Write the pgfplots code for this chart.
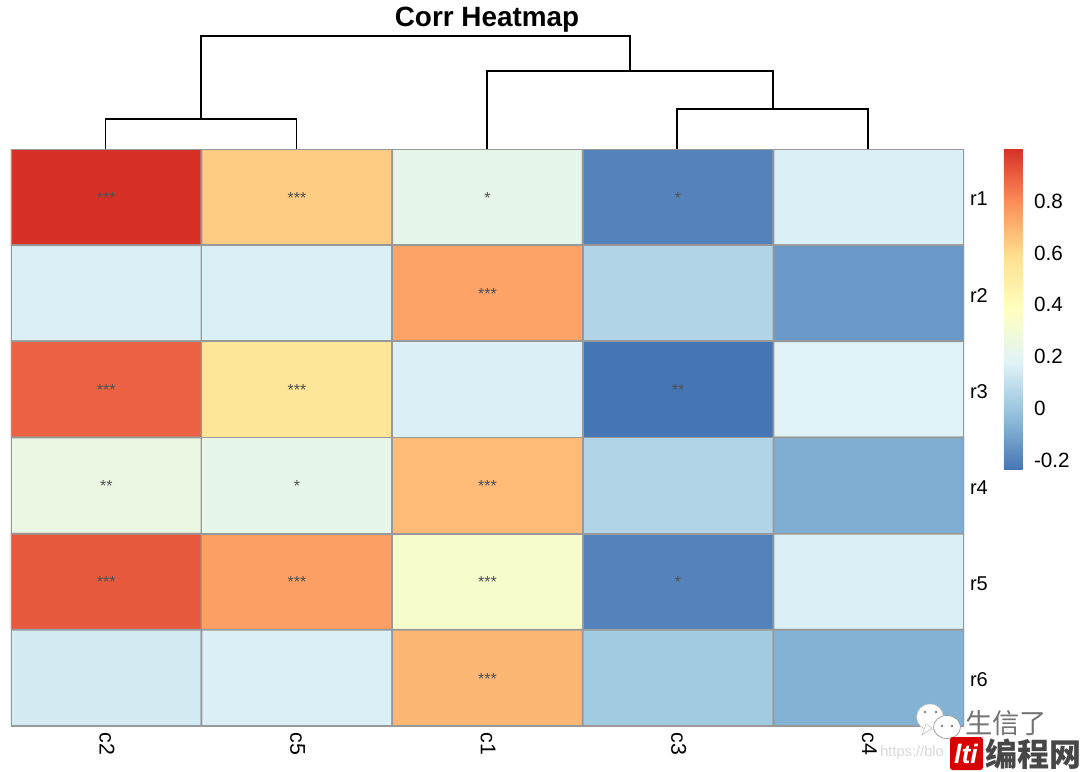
\documentclass[border=0pt]{standalone}
\usepackage{pgfplots}
\pgfplotsset{compat=1.18}
\usepackage{fontspec}
\setmainfont{Liberation Sans}
\newfontfamily\cjk{Noto Sans CJK SC}
\definecolor{cellborder}{HTML}{999999}
\definecolor{stargrey}{HTML}{505050}
\pgfplotsset{colormap={rdylbu}{
  rgb255=(69,117,180)
  rgb255=(145,191,219)
  rgb255=(224,243,248)
  rgb255=(255,255,191)
  rgb255=(254,224,144)
  rgb255=(252,141,89)
  rgb255=(215,48,39)}}
\begin{document}
\begin{tikzpicture}
\useasboundingbox (0,0) rectangle (810pt,578.25pt);
% heatmap
\begin{axis}[
  at={(8.25pt,33.75pt)},anchor=south west,scale only axis,
  width=714.75pt,height=432.75pt,
  xmin=-0.5,xmax=4.5,ymin=-0.5,ymax=5.5,y dir=reverse,
  colormap name=rdylbu,point meta min=-0.24,point meta max=1.0,
  xtick={0,1,2,3,4},xticklabels={c2,c5,c1,c3,c4},
  ytick={0,1,2,3,4,5},yticklabels={r1,r2,r3,r4,r5,r6},
  yticklabel pos=right,xticklabel pos=bottom,
  tick style={draw=none},major tick length=0pt,
  axis line style={draw=none},
  x tick label style={rotate=-90,anchor=west,font=\fontsize{16}{16}\selectfont,xshift=1.5pt,yshift=0.5pt},
  y tick label style={anchor=west,font=\fontsize{15}{15}\selectfont,xshift=1pt,yshift=-1.5pt},
  colorbar,
  colorbar style={
    at={(1.0417,1.001)},anchor=north west,
    width=16.2pt,height=241pt,
    ytick={-0.2,0,0.2,0.4,0.6,0.8},
    yticklabels={-0.2,0,0.2,0.4,0.6,0.8},
    yticklabel pos=right,
    tick style={draw=none},major tick length=0pt,
    axis line style={draw=none},
    y tick label style={anchor=west,font=\fontsize{15.5}{15.5}\selectfont,xshift=3pt,yshift=-0.7pt},
  },
]
\addplot[matrix plot*,draw=cellborder,line width=1.3pt,mesh/cols=5,mesh/rows=6,point meta=explicit]
  table[meta=v]{
x y v
0 0 1.00
1 0 0.64
2 0 0.22
3 0 -0.20
4 0 0.16
0 1 0.16
1 1 0.16
2 1 0.74
3 1 0.05
4 1 -0.14
0 2 0.89
1 2 0.55
2 2 0.16
3 2 -0.24
4 2 0.18
0 3 0.25
1 3 0.22
2 3 0.68
3 3 0.05
4 3 -0.08
0 4 0.91
1 4 0.75
2 4 0.33
3 4 -0.20
4 4 0.16
0 5 0.14
1 5 0.16
2 5 0.69
3 5 0.01
4 5 -0.07
};
\addplot[only marks,mark=none,point meta=explicit symbolic,
  nodes near coords,
  every node near coord/.style={anchor=center,font=\fontsize{12}{12}\selectfont,text=stargrey,inner sep=0pt,yshift=-0.5pt}]
  table[meta=s]{
x y s
0 0 ***
1 0 ***
2 0 *
3 0 *
2 1 ***
0 2 ***
1 2 ***
3 2 **
0 3 **
1 3 *
2 3 ***
0 4 ***
1 4 ***
2 4 ***
3 4 *
2 5 ***
};
\end{axis}
% dendrogram, in pixel units of the reference
\begin{axis}[
  at={(0pt,0pt)},anchor=south west,scale only axis,
  width=810pt,height=578.25pt,
  xmin=0,xmax=1080,ymin=0,ymax=771,y dir=reverse,hide axis,clip=false]
\addplot[black,line width=1.05pt] coordinates {(105.5,149)(105.5,119)(296.5,119)(296.5,149)};
\addplot[black,line width=1.05pt] coordinates {(677,149)(677,109)(868,109)(868,149)};
\addplot[black,line width=1.05pt] coordinates {(487,149)(487,71)(773,71)(773,109)};
\addplot[black,line width=1.05pt] coordinates {(201,119)(201,36)(630,36)(630,71)};
\end{axis}
% title and image watermark
\begin{scope}[shift={(0pt,578.25pt)},x=0.75pt,y=-0.75pt]
\node[font=\fontsize{20.9}{21}\selectfont\bfseries,inner sep=0pt] at (487,19.5) {Corr Heatmap};
\node[anchor=west,inner sep=0pt,text=black!15,font=\fontsize{11}{11}\selectfont] at (880,753) {https://blo};
\fill[white,draw=black!25,line width=0.4pt] (930,717) ellipse (13.5 and 13);
\fill[white,draw=black!25,line width=0.4pt] (932,728)--(922,735)--(926,724)--cycle;
\fill[white,draw=black!40,line width=0.5pt] (947,727) ellipse (13.5 and 11.5);
\fill[black!50] (925,712) circle (1.3) (936,712) circle (1.3) (942,726) circle (1.3) (952,726) circle (1.3);
\node[anchor=west,inner sep=0pt,text=black!55,font=\cjk\fontsize{20.5}{21}\selectfont] at (965,723) {生信了};
\fill[red!85!black,rounded corners=2pt] (950,737) rectangle (983,770);
\node[inner sep=0pt,text=white,font=\fontsize{20}{20}\selectfont\bfseries\itshape] at (966,754) {lti};
\node[anchor=west,inner sep=0pt,text=black!72,font=\cjk\fontsize{24}{24}\selectfont\bfseries] at (985,754) {编程网};
\end{scope}
\end{tikzpicture}
\end{document}
